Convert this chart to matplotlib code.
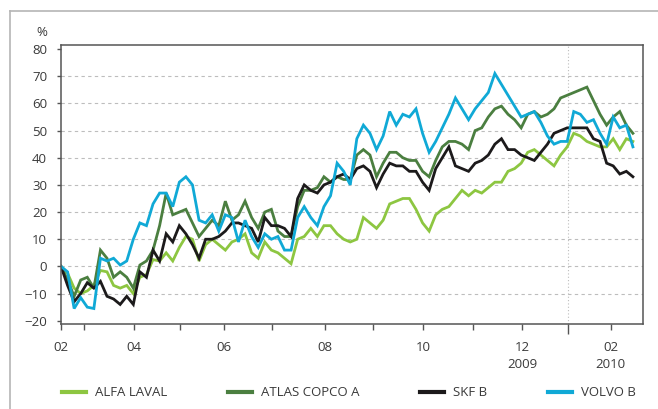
import numpy as np
import matplotlib.pyplot as plt
from matplotlib.lines import Line2D

plt.rcParams['font.family'] = ['Open Sans', 'DejaVu Sans']

# trading-day index, sampled every 3 days from early February 2009
days = np.arange(0, 262, 3)

alfa_laval = [0, -2.5, -8, -10, -9, -7, -1.5, -2, -7, -8, -7, -10, -4, -3, 2.5, 2,
              5, 2, 7, 11, 10, 2, 8, 10, 8, 6, 9, 10, 12, 5, 3, 9, 6, 5, 3, 1,
              10, 11, 14, 11, 15, 15, 12, 10, 9, 10, 18, 16, 14, 17, 23, 24, 25, 25,
              21, 16, 13, 19, 21, 22, 25, 28, 26, 28, 27, 29, 31, 31, 35, 36, 38, 42,
              43, 41, 39, 37, 41, 44, 49, 48, 46, 45, 44, 44, 47, 43, 47, 46]
atlas_copco = [0, -5, -11, -5, -4, -8, 6, 3, -4, -2, -4, -8, 0.5, 2, 6, 15,
               27, 19, 20, 21, 16, 11, 14, 17, 15, 24, 17, 19, 24, 18, 14, 20, 21, 13, 11, 11,
               22, 28, 28, 29, 33, 31, 33, 32, 32, 41, 43, 41, 33, 38, 42, 42, 40, 39,
               39, 35, 33, 39, 44, 46, 46, 45, 43, 50, 51, 55, 58, 59, 56, 54, 51, 56,
               57, 55, 56, 58, 62, 63, 64, 65, 66, 61, 56, 52, 55, 57, 52, 49]
skf = [0, -7, -13, -10, -6, -8, -5.5, -11, -12, -14, -11, -14, -2, -4, 6, 2,
       12, 9, 15, 12, 8, 3, 10, 10, 11, 13, 16, 16, 15, 14, 9, 18, 15, 15, 14, 11,
       25, 30, 28, 27, 30, 31, 33, 34, 32, 36, 37, 35, 29, 34, 38, 37, 37, 35,
       35, 31, 28, 36, 40, 44, 37, 36, 35, 38, 39, 41, 45, 47, 43, 43, 41, 40,
       39, 42, 45, 49, 50, 51, 51, 51, 51, 47, 46, 38, 37, 34, 35, 33]
volvo = [0, -2, -15.5, -11.5, -15, -15.5, 3, 2, 3, 0.5, 2, 10, 16, 15, 23, 27,
         27, 22, 31, 33, 30, 17, 16, 19, 13, 19, 18, 9, 17, 11, 7, 12, 10, 11, 6, 6,
         18, 22, 18, 15, 22, 26, 38, 35, 30, 47, 52, 49, 43, 48, 57, 52, 56, 55,
         58, 49, 42, 46, 51, 56, 62, 58, 54, 58, 61, 64, 71, 67, 63, 59, 55, 56,
         57, 53, 48, 45, 46, 46, 57, 56, 53, 54, 49, 45, 55, 51, 52, 44]

series = [('ALFA LAVAL', alfa_laval, '#8dc641'),
          ('ATLAS COPCO A', atlas_copco, '#4b7f40'),
          ('SKF B', skf, '#1c1a1b'),
          ('VOLVO B', volvo, '#10a9d6')]

# month ticks (trading-day index)
major_pos = [0, 33.3, 74.4, 120.5, 165.2, 210.4, 250.9]
major_lab = ['02', '04', '06', '08', '10', '12\n2009', '02\n2010']
minor_pos = [10.5, 54.3, 96.3, 142.4, 188]
year_pos = 231.3

text_c = '#3a3a3a'
fig = plt.figure(figsize=(6.58, 4.09), dpi=100)
ax = fig.add_axes([61/658, 85/409, 582/658, 279/409])

for level in range(-10, 71, 10):
    ax.axhline(level, color='#bdbdbd', lw=0.8, dashes=(3, 3), zorder=0)
ax.axvline(year_pos, color='#bdbdbd', lw=0.8, dashes=(1, 2), zorder=0)

for name, vals, col in series:
    ax.plot(days, vals, color=col, lw=2.0, label=name, solid_joinstyle='miter')

ax.set_xlim(0, 265.6)
ax.set_ylim(-21.2, 81.5)
ax.set_yticks(range(-20, 81, 10))
ax.set_xticks(major_pos, major_lab)
ax.set_xticks(minor_pos, minor=True)
for lab in ax.get_xticklabels():
    lab.set_linespacing(1.45)
ax.tick_params(axis='y', length=3, width=1, colors='#555555', labelcolor=text_c,
               labelsize=9.5, pad=7)
ax.tick_params(axis='x', which='both', length=4, width=1, colors='#555555',
               labelcolor=text_c, labelsize=9.5, pad=8)
for s in ax.spines.values():
    s.set_color('#555555')
    s.set_linewidth(1.1)

sec = ax.secondary_xaxis('bottom')
sec.set_xticks([year_pos], [''])
sec.tick_params(length=7, width=1, colors='#555555')
sec.spines['bottom'].set_visible(False)

fig.text(42/658, 1 - 32/409, '%', ha='center', va='center', fontsize=9.5, color=text_c)

fig.legend(loc='center left', bbox_to_anchor=(62/658, 1 - 393/409), ncol=4,
           frameon=False, fontsize=9.5, labelcolor=text_c, handlelength=1.8,
           handletextpad=0.7, columnspacing=4.6, borderpad=0, borderaxespad=0)
for lh in fig.legends[0].get_lines():
    lh.set_linewidth(3)

fig.add_artist(Line2D([10/658, 10/658], [0, 1 - 11/409], color='#b5b5b5', lw=1.2))
fig.add_artist(Line2D([10/658, 1], [1 - 11/409, 1 - 11/409], color='#b5b5b5', lw=1.2))

fig.savefig('out.png', dpi=100)
